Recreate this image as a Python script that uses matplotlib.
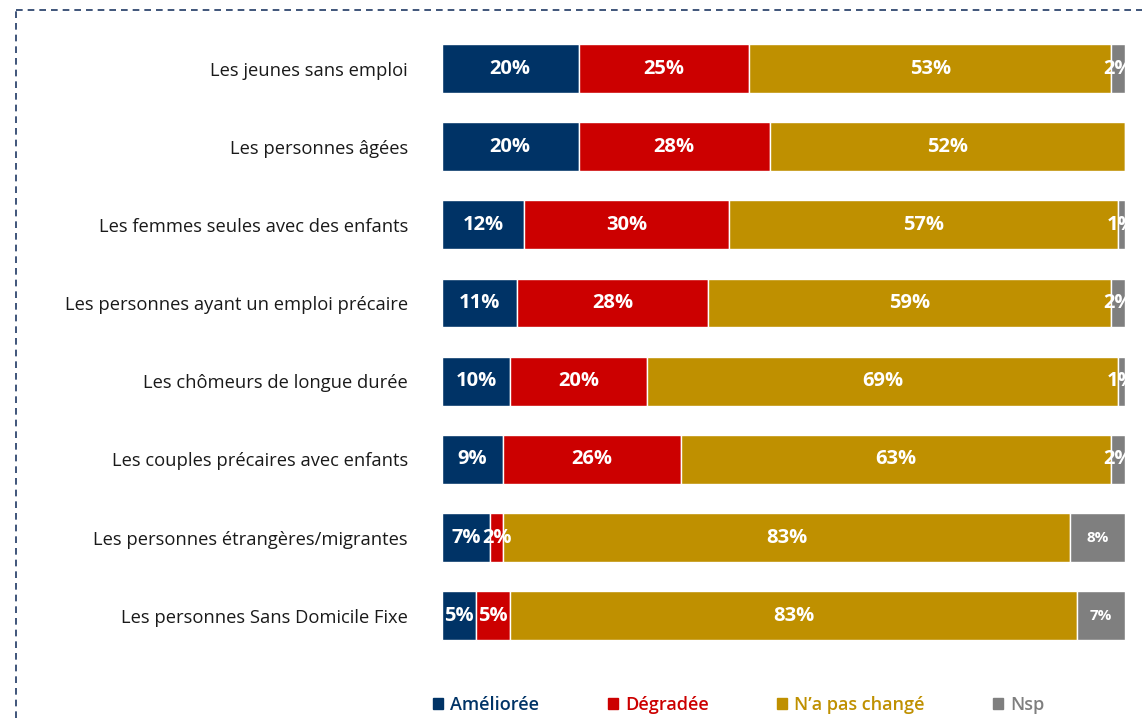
import matplotlib.pyplot as plt
from matplotlib.lines import Line2D
from matplotlib.patches import Patch

# Données
categories = [
    "Les jeunes sans emploi",
    "Les personnes âgées",
    "Les femmes seules avec des enfants",
    "Les personnes ayant un emploi précaire",
    "Les chômeurs de longue durée",
    "Les couples précaires avec enfants",
    "Les personnes étrangères/migrantes",
    "Les personnes Sans Domicile Fixe",
]
amelioree = [20, 20, 12, 11, 10, 9, 7, 5]
degradee = [25, 28, 30, 28, 20, 26, 2, 5]
pas_change = [53, 52, 57, 59, 69, 63, 83, 83]
nsp = [2, 0, 1, 2, 1, 2, 8, 7]

series = [amelioree, degradee, pas_change, nsp]
noms = ["Améliorée", "Dégradée", "N\u2019a pas changé", "Nsp"]
couleurs = ["#003366", "#CC0000", "#BF9000", "#7F7F7F"]

plt.rcParams['font.family'] = ['Open Sans', 'DejaVu Sans']

fig = plt.figure(figsize=(11.42, 7.18), dpi=100)
ax = fig.add_axes([0.387, 0.088, 0.598, 0.871])

y = list(range(len(categories)))
gauche = [0] * len(categories)
for vals, nom, coul in zip(series, noms, couleurs):
    ax.barh(y, vals, left=gauche, height=0.625, color=coul, edgecolor='white',
            linewidth=1, label=nom)
    for i, v in enumerate(vals):
        if v > 0:
            taille = 11 if coul == "#7F7F7F" and v > 5 else 14.5
            ax.text(gauche[i] + v / 2, i, f"{v}%", ha='center', va='center',
                    color='white', fontweight='bold', fontsize=taille, clip_on=True)
    gauche = [g + v for g, v in zip(gauche, vals)]

ax.set_xlim(0, 100)
ax.set_ylim(7.5, -0.5)
ax.set_yticks(y)
ax.set_yticklabels(categories, fontsize=13.2, color='#1a1a1a')
ax.tick_params(axis='y', length=0, pad=24.5)
ax.set_xticks([])
for s in ax.spines.values():
    s.set_visible(False)

# Légende
poignees = [Patch(color=c) for c in couleurs]
leg = fig.legend(poignees, noms, loc='center', bbox_to_anchor=(0.647, 0.018), ncol=4,
                 frameon=False, fontsize=13, handlelength=0.55, handleheight=0.55,
                 handletextpad=0.4, columnspacing=3.8)
for t, c in zip(leg.get_texts(), couleurs):
    t.set_color(c)
    t.set_fontweight('semibold')

# Cadre pointillé
fig.add_artist(Line2D([0.014, 1.0], [0.986, 0.986], color='#1F3864', linestyle=(0, (4, 3)),
                      linewidth=1.2, transform=fig.transFigure))
fig.add_artist(Line2D([0.014, 0.014], [0.0, 0.986], color='#1F3864', linestyle=(0, (4, 3)),
                      linewidth=1.2, transform=fig.transFigure))

fig.savefig("out.png", dpi=100)
